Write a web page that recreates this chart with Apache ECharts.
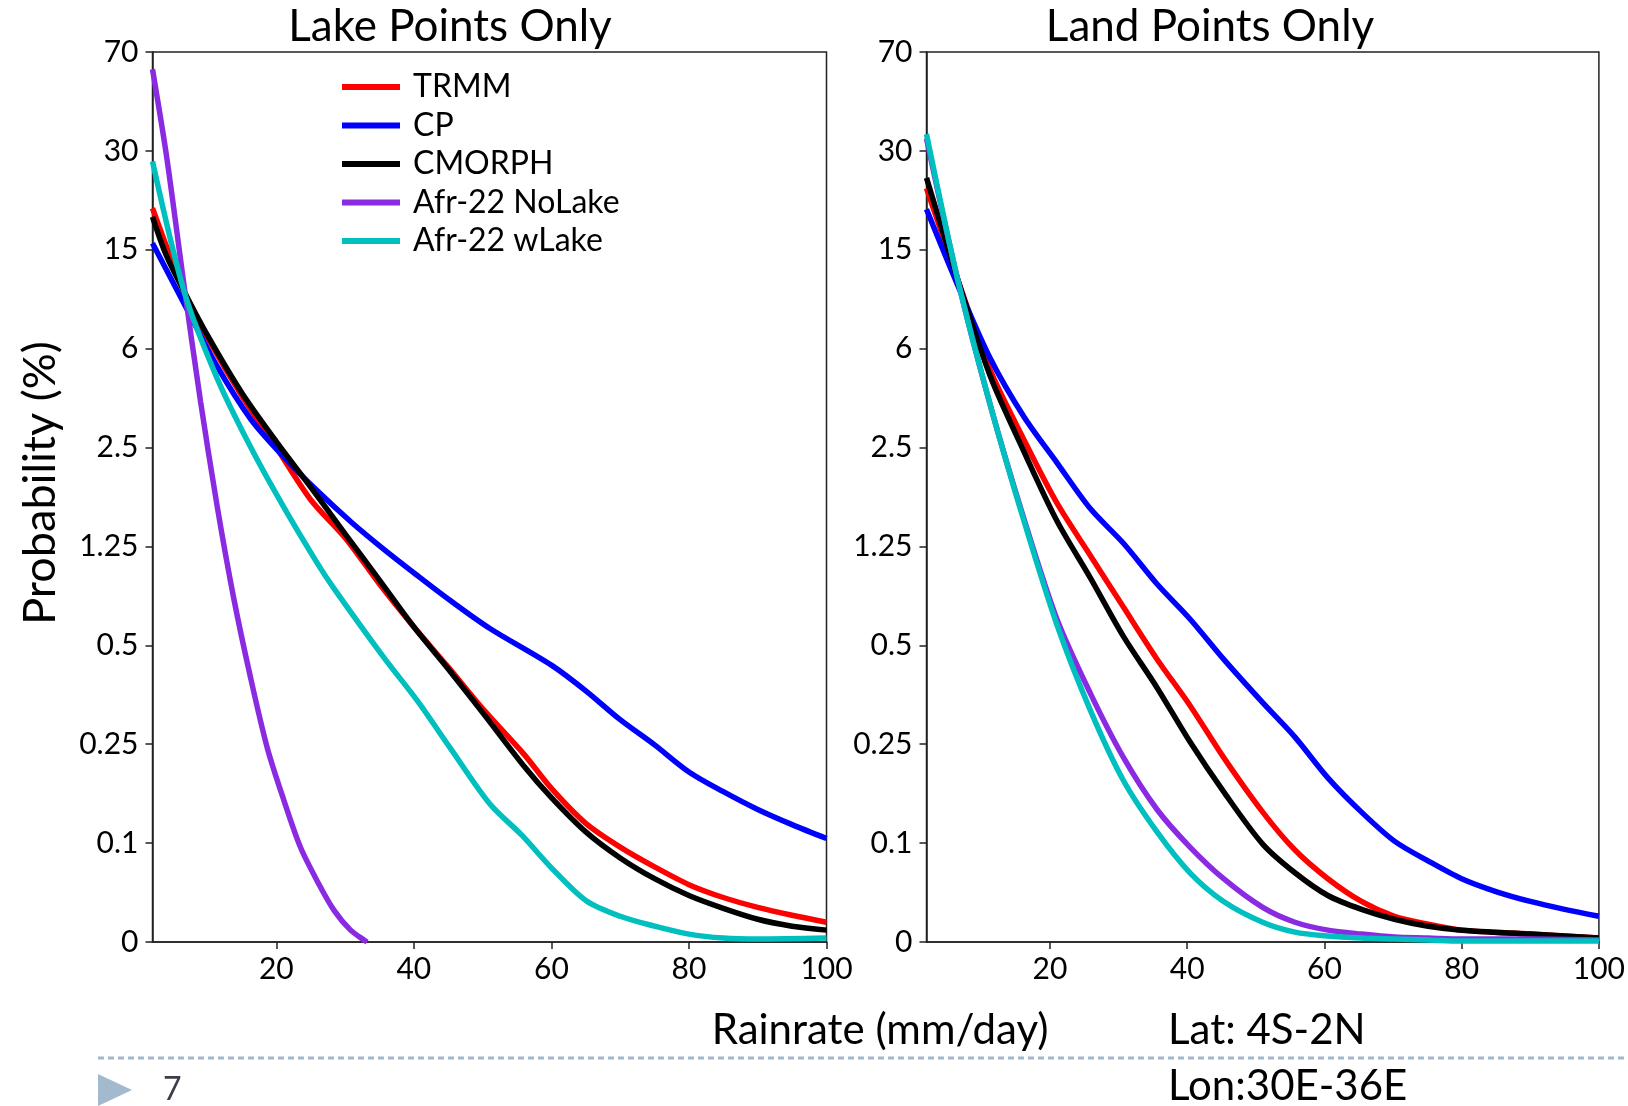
<!DOCTYPE html>
<html>
<head>
<meta charset="utf-8">
<title>Rainrate probability</title>
<script src="https://cdn.jsdelivr.net/npm/echarts@6.0.0/dist/echarts.min.js"></script>
<style>
    html, body { margin: 0; padding: 0; background: #fff; }
    #chart { width: 1628px; height: 1106px; }
</style>
</head>
<body>
<div id="chart"></div>
<script>
// y axis is not linear: every level below sits one step apart
const yLevels = [0, 0.1, 0.25, 0.5, 1.25, 2.5, 6, 15, 30, 70]
const xTicks = [20, 40, 60, 80, 100]

// Lake points (rainrate mm/day -> probability %)
const lakeX = [2, 4, 6.6, 10, 15, 20, 25, 30, 35, 40, 45, 50, 56, 60, 65, 70, 75, 80, 85, 90, 95, 100]
const lakeTrmm = [21.3, 15.6, 11.2, 7.0, 4.32, 2.5, 1.84, 1.36, 0.965, 0.64, 0.445, 0.34, 0.235, 0.183, 0.13, 0.096, 0.076, 0.058, 0.045, 0.035, 0.027, 0.02]
const lakeCmorph = [20.0, 14.5, 11.2, 7.2, 4.43, 2.71, 2.0, 1.41, 0.995, 0.64, 0.44, 0.33, 0.217, 0.169, 0.117, 0.085, 0.064, 0.047, 0.034, 0.023, 0.016, 0.012]
const lakeCpX = [2, 6.6, 11.4, 16.3, 21, 26, 31, 35.6, 40.5, 45.3, 51, 60, 65, 70, 75, 80, 85, 90, 95, 100]
const lakeCp = [16.0, 10.1, 5.37, 3.5, 2.39, 1.95, 1.55, 1.23, 1.03, 0.84, 0.63, 0.45, 0.385, 0.312, 0.249, 0.208, 0.178, 0.151, 0.128, 0.107]
const lakeNoLakeX = [2, 4.1, 6.6, 9, 11.4, 13.8, 16.3, 18.7, 21.1, 23.5, 26, 28.4, 30.8, 33.2]
const lakeNoLake = [63, 28.8, 11.7, 4.11, 1.76, 0.86, 0.415, 0.244, 0.165, 0.096, 0.061, 0.032, 0.012, 0]
const lakeWLakeX = [2, 6.6, 11.4, 16.3, 21, 26, 28.4, 35.6, 40.5, 45.3, 51, 55.7, 60, 65, 70, 75, 80, 85, 90, 100]
const lakeWLake = [28.4, 11.2, 4.95, 2.5, 1.76, 1.12, 0.93, 0.47, 0.36, 0.244, 0.16, 0.112, 0.075, 0.042, 0.026, 0.016, 0.008, 0.004, 0.003, 0.004]

// Land points
const landX = [2, 6.5, 11.3, 16.2, 21, 25.9, 30.7, 35.6, 40.4, 45.3, 51, 55.7, 60.5, 65.4, 70.2, 75.1, 80, 90, 100]
const landTrmm = [24.3, 12.4, 5.23, 2.78, 1.8, 1.18, 0.79, 0.465, 0.348, 0.23, 0.147, 0.093, 0.064, 0.041, 0.026, 0.018, 0.012, 0.008, 0.004]
const landCmorph = [25.9, 12.4, 5.02, 2.45, 1.575, 1.01, 0.568, 0.393, 0.256, 0.178, 0.099, 0.07, 0.047, 0.033, 0.023, 0.016, 0.012, 0.008, 0.004]
const landNoLake = [35, 12.4, 4.0, 1.6, 0.70, 0.378, 0.23, 0.151, 0.096, 0.064, 0.035, 0.02, 0.012, 0.008, 0.005, 0.004, 0.003, 0.003, 0.002]
const landWLake = [36.8, 12.4, 4.0, 1.575, 0.658, 0.335, 0.195, 0.117, 0.07, 0.041, 0.02, 0.01, 0.006, 0.004, 0.003, 0.002, 0.001, 0.001, 0.001]
const landCpX = [2, 6.5, 11.3, 16.2, 21, 25.9, 30.7, 35.6, 40.4, 45.3, 51, 55.7, 60.5, 65.4, 70.2, 75.1, 80, 85, 90, 95, 100]
const landCp = [21.15, 11.85, 5.65, 3.59, 2.31, 1.725, 1.29, 0.965, 0.70, 0.465, 0.355, 0.268, 0.199, 0.147, 0.103, 0.082, 0.064, 0.051, 0.041, 0.033, 0.026]

const names = ['TRMM', 'CP', 'CMORPH', 'Afr-22 NoLake', 'Afr-22 wLake']
const colors = ['#ff0000', '#0000ff', '#000000', '#8a2be2', '#00bfbf']

const font = 'Lato, "Open Sans", sans-serif'

// probability -> position on the stepped axis
function toIdx(p) {
    for (let i = 0; i < yLevels.length - 1; i++) {
        if (p <= yLevels[i + 1]) {
            return i + (p - yLevels[i]) / (yLevels[i + 1] - yLevels[i])
        }
    }
    return yLevels.length - 1
}

function line(k, xs, ys, gi) {
    return {
        name: names[k],
        type: 'line',
        xAxisIndex: gi,
        yAxisIndex: gi,
        data: xs.map((x, i) => [x, toIdx(ys[i])]),
        smooth: 0.3,
        symbol: 'none',
        lineStyle: { color: colors[k], width: 5.5 },
        itemStyle: { color: colors[k] },
        z: 2 + k,
    }
}

function xAxis(gi) {
    return {
        type: 'value',
        gridIndex: gi,
        min: 2,
        max: 100,
        splitLine: { show: false },
        axisLine: { lineStyle: { color: '#222', width: 1.5 } },
        axisTick: { customValues: xTicks, length: 7, lineStyle: { color: '#222', width: 1.5 } },
        axisLabel: { customValues: xTicks, fontSize: 30, color: '#000', fontFamily: font, margin: 12 },
    }
}

function yAxis(gi) {
    return {
        type: 'value',
        gridIndex: gi,
        min: 0,
        max: 9,
        interval: 1,
        splitLine: { show: false },
        axisLine: { show: true, lineStyle: { color: '#222', width: 1.5 } },
        axisTick: { show: true, length: 7, lineStyle: { color: '#222', width: 1.5 } },
        axisLabel: {
            fontSize: 30,
            color: '#000',
            fontFamily: font,
            margin: 14,
            formatter: (v) => String(yLevels[Math.round(v)]),
        },
    }
}

const gridBox = { show: true, borderColor: '#222', borderWidth: 1.5, top: 52, height: 890, width: 674 }

const option = {
    animation: false,
    backgroundColor: '#fff',
    grid: [
        Object.assign({ left: 152.5 }, gridBox),
        Object.assign({ left: 926.5 }, gridBox),
    ],
    xAxis: [xAxis(0), xAxis(1)],
    yAxis: [yAxis(0), yAxis(1)],
    legend: {
        data: names,
        orient: 'vertical',
        left: 337,
        top: 66,
        icon: 'rect',
        itemWidth: 58,
        itemHeight: 6,
        itemGap: 6.5,
        selectedMode: false,
        textStyle: { fontSize: 32, lineHeight: 32, color: '#000', fontFamily: font, padding: [0, 0, 0, 8] },
    },
    series: [
        line(0, lakeX, lakeTrmm, 0),
        line(1, lakeCpX, lakeCp, 0),
        line(2, lakeX, lakeCmorph, 0),
        line(3, lakeNoLakeX, lakeNoLake, 0),
        line(4, lakeWLakeX, lakeWLake, 0),
        line(0, landX, landTrmm, 1),
        line(1, landCpX, landCp, 1),
        line(2, landX, landCmorph, 1),
        line(3, landX, landNoLake, 1),
        line(4, landX, landWLake, 1),
    ],
    graphic: [
        { type: 'text', x: 450, y: 27, style: { text: 'Lake Points Only', font: '44px ' + font, fill: '#000', textAlign: 'center', textVerticalAlign: 'middle' } },
        { type: 'text', x: 1210, y: 27, style: { text: 'Land Points Only', font: '44px ' + font, fill: '#000', textAlign: 'center', textVerticalAlign: 'middle' } },
        { type: 'text', x: 40, y: 483, rotation: Math.PI / 2, style: { text: 'Probability (%)', font: '45px ' + font, fill: '#000', textAlign: 'center', textVerticalAlign: 'middle' } },
        { type: 'text', x: 880, y: 1030, style: { text: 'Rainrate (mm/day)', font: '42px ' + font, fill: '#000', textAlign: 'center', textVerticalAlign: 'middle' } },
        { type: 'text', x: 1168, y: 1030, style: { text: 'Lat: 4S-2N', font: '42px ' + font, fill: '#000', textAlign: 'left', textVerticalAlign: 'middle' } },
        { type: 'text', x: 1168, y: 1086, style: { text: 'Lon:30E-36E', font: '42px ' + font, fill: '#000', textAlign: 'left', textVerticalAlign: 'middle' } },
        { type: 'line', shape: { x1: 98, y1: 1058, x2: 1628, y2: 1058 }, style: { stroke: '#a0b8cf', lineWidth: 3, lineDash: [6, 4] } },
        { type: 'polygon', shape: { points: [[98, 1074], [132, 1090], [98, 1106]] }, style: { fill: '#a3b9cd' } },
        { type: 'text', x: 163, y: 1090, style: { text: '7', font: '32px ' + font, fill: '#3c3c4a', textAlign: 'left', textVerticalAlign: 'middle' } },
    ],
}

const myChart = echarts.init(document.getElementById('chart'))
myChart.setOption(option)
</script>
</body>
</html>
